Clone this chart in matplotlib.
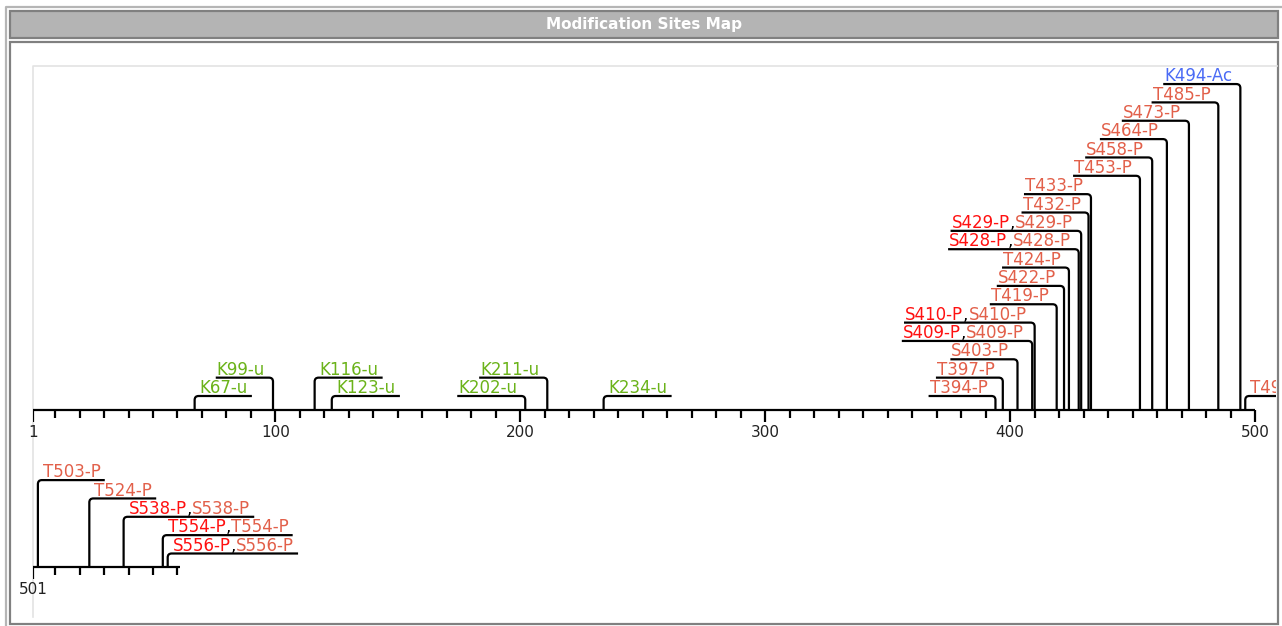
import matplotlib
matplotlib.use("Agg")
import matplotlib.pyplot as plt
from matplotlib.patches import Rectangle, PathPatch
from matplotlib.path import Path
from matplotlib.lines import Line2D

# ---------------------------
# Data
# ---------------------------
row1_sites = [67, 99, 116, 123, 202, 211, 234, 394, 397, 403, 409, 410, 419,
              422, 424, 428, 429, 432, 433, 453, 458, 464, 473, 485, 494, 496]
row1_names = ["K67-u", "K99-u", "K116-u", "K123-u", "K202-u", "K211-u", "K234-u",
              "T394-P", "T397-P", "S403-P", "S409-P,S409-P", "S410-P,S410-P",
              "T419-P", "S422-P", "T424-P", "S428-P,S428-P", "S429-P,S429-P",
              "T432-P", "T433-P", "T453-P", "S458-P", "S464-P", "S473-P",
              "T485-P", "K494-Ac", "T496-P"]
row1_levels = [0, 1, 1, 0, 0, 1, 0, 0, 1, 2, 3, 4, 5, 6, 7, 8, 9, 10, 11, 12,
               13, 14, 15, 16, 17, 0]
row1_sides = ["R", "L", "R", "R", "L", "L", "R"] + ["L"] * 18 + ["R"]

row2_sites = [503, 524, 538, 554, 556]
row2_names = ["T503-P", "T524-P", "S538-P,S538-P", "T554-P,T554-P", "S556-P,S556-P"]
row2_levels = [4, 3, 2, 1, 0]
row2_sides = ["R", "R", "R", "R", "R"]

row1_range = (1, 500)
row2_range = (501, 561)
row1_ticklabels = [1, 100, 200, 300, 400, 500]
row2_ticklabels = [501]

# ---------------------------
# Style
# ---------------------------
W, H = 1282, 626
K = 2.449          # pixels per residue
FS = 12
LEVEL_GAP = 18.35
LEVEL0 = 13.5
R = 4.0            # corner radius in px
kind_colors = {"P": "#E2604A", "u": "#6BB31A", "Ac": "#4B6BF5"}
first_color = "#FF1010"

fig = plt.figure(figsize=(W / 100, H / 100), dpi=100)


def fx(x):
    return x / W


def fy(y):
    return 1 - y / H


def frame_rect(x0, y0, x1, y1, **kw):
    fig.add_artist(Rectangle((fx(x0), fy(y1)), fx(x1) - fx(x0), fy(y0) - fy(y1),
                             transform=fig.transFigure, zorder=-10, **kw))


def frame_line(xs, ys, **kw):
    fig.add_artist(Line2D([fx(v) for v in xs], [fy(v) for v in ys],
                          transform=fig.transFigure, zorder=-5, **kw))


# outer light border
frame_line([6, 6, W], [H, 7, 7], color="#B5B5B5", lw=1.6)
# title bar
frame_rect(10, 11, 1278.5, 37.5, facecolor="#B4B4B4", edgecolor="#808080", lw=1.6)
fig.text(fx(644), fy(25), "Modification Sites Map", color="white",
         fontsize=11, fontweight="bold", ha="center", va="center")
# panel
frame_rect(10, 41.5, 1278.5, 624, facecolor="white", edgecolor="#808080", lw=1.6)
# inner light box
frame_line([33, 33, 1277], [617, 66, 66], color="#E3E3E3", lw=1.2)


def make_axes(top, bottom, axis_y, start):
    ax = fig.add_axes([fx(33), fy(bottom), fx(1276) - fx(33), fy(top) - fy(bottom)])
    ax.set_xlim(start, start + (1276 - 33) / K)
    ax.set_ylim(-(bottom - axis_y), axis_y - top)
    ax.axis("off")
    return ax


ax1 = make_axes(50, 445, 409.5, row1_range[0])
ax2 = make_axes(450, 620, 567, row2_range[0])

renderer = fig.canvas.get_renderer()


def text_width(t):
    return t.get_window_extent(renderer=renderer).width / K


def draw_row(ax, rng, ticklabels, sites, names, levels, sides):
    lo, hi = rng
    ax.plot([lo, hi], [0, 0], color="black", lw=1.6, solid_capstyle="butt")
    minor = [v for v in range((lo // 10 + 1) * 10, hi, 10) if v % 100 != 0]
    ax.vlines(minor, -8, 0, color="black", lw=1.6)
    ax.vlines(ticklabels, -12, 0, color="black", lw=1.6)
    for v in ticklabels:
        ax.text(v, -23, str(v), ha="center", va="center", fontsize=11,
                color="#222222", clip_on=False)

    rx = R / K
    for s, name, lev, side in zip(sites, names, levels, sides):
        y = LEVEL0 + LEVEL_GAP * lev
        kind = name.split(",")[0].split("-")[1]
        parts = name.split(",")
        if len(parts) == 2:
            segs = [(parts[0], first_color), (",", "black"), (parts[1], kind_colors[kind])]
        else:
            segs = [(parts[0], kind_colors[kind])]
        texts = []
        for txt, col in segs:
            t = ax.text(0, y + 2.8, txt, color=col, fontsize=FS, ha="left",
                        va="baseline", clip_on=True)
            texts.append(t)
        widths = [text_width(t) for t in texts]
        total = sum(widths)
        if side == "L":
            x0 = s - total - 9 / K
            xt = x0 + 1 / K
            verts = [(x0, y), (s - rx, y), (s, y), (s, y - R), (s, 0)]
            codes = [Path.MOVETO, Path.LINETO, Path.CURVE3, Path.CURVE3, Path.LINETO]
        else:
            xt = s + 5 / K
            x1 = xt + total + 4 / K
            verts = [(s, 0), (s, y - R), (s, y), (s + rx, y), (x1, y)]
            codes = [Path.MOVETO, Path.LINETO, Path.CURVE3, Path.CURVE3, Path.LINETO]
        for t, w in zip(texts, widths):
            t.set_x(xt)
            xt += w
        ax.add_patch(PathPatch(Path(verts, codes), fill=False, edgecolor="black",
                               lw=1.6, capstyle="butt"))


draw_row(ax1, row1_range, row1_ticklabels, row1_sites, row1_names, row1_levels, row1_sides)
draw_row(ax2, row2_range, row2_ticklabels, row2_sites, row2_names, row2_levels, row2_sides)

fig.savefig("out.png", dpi=100)
